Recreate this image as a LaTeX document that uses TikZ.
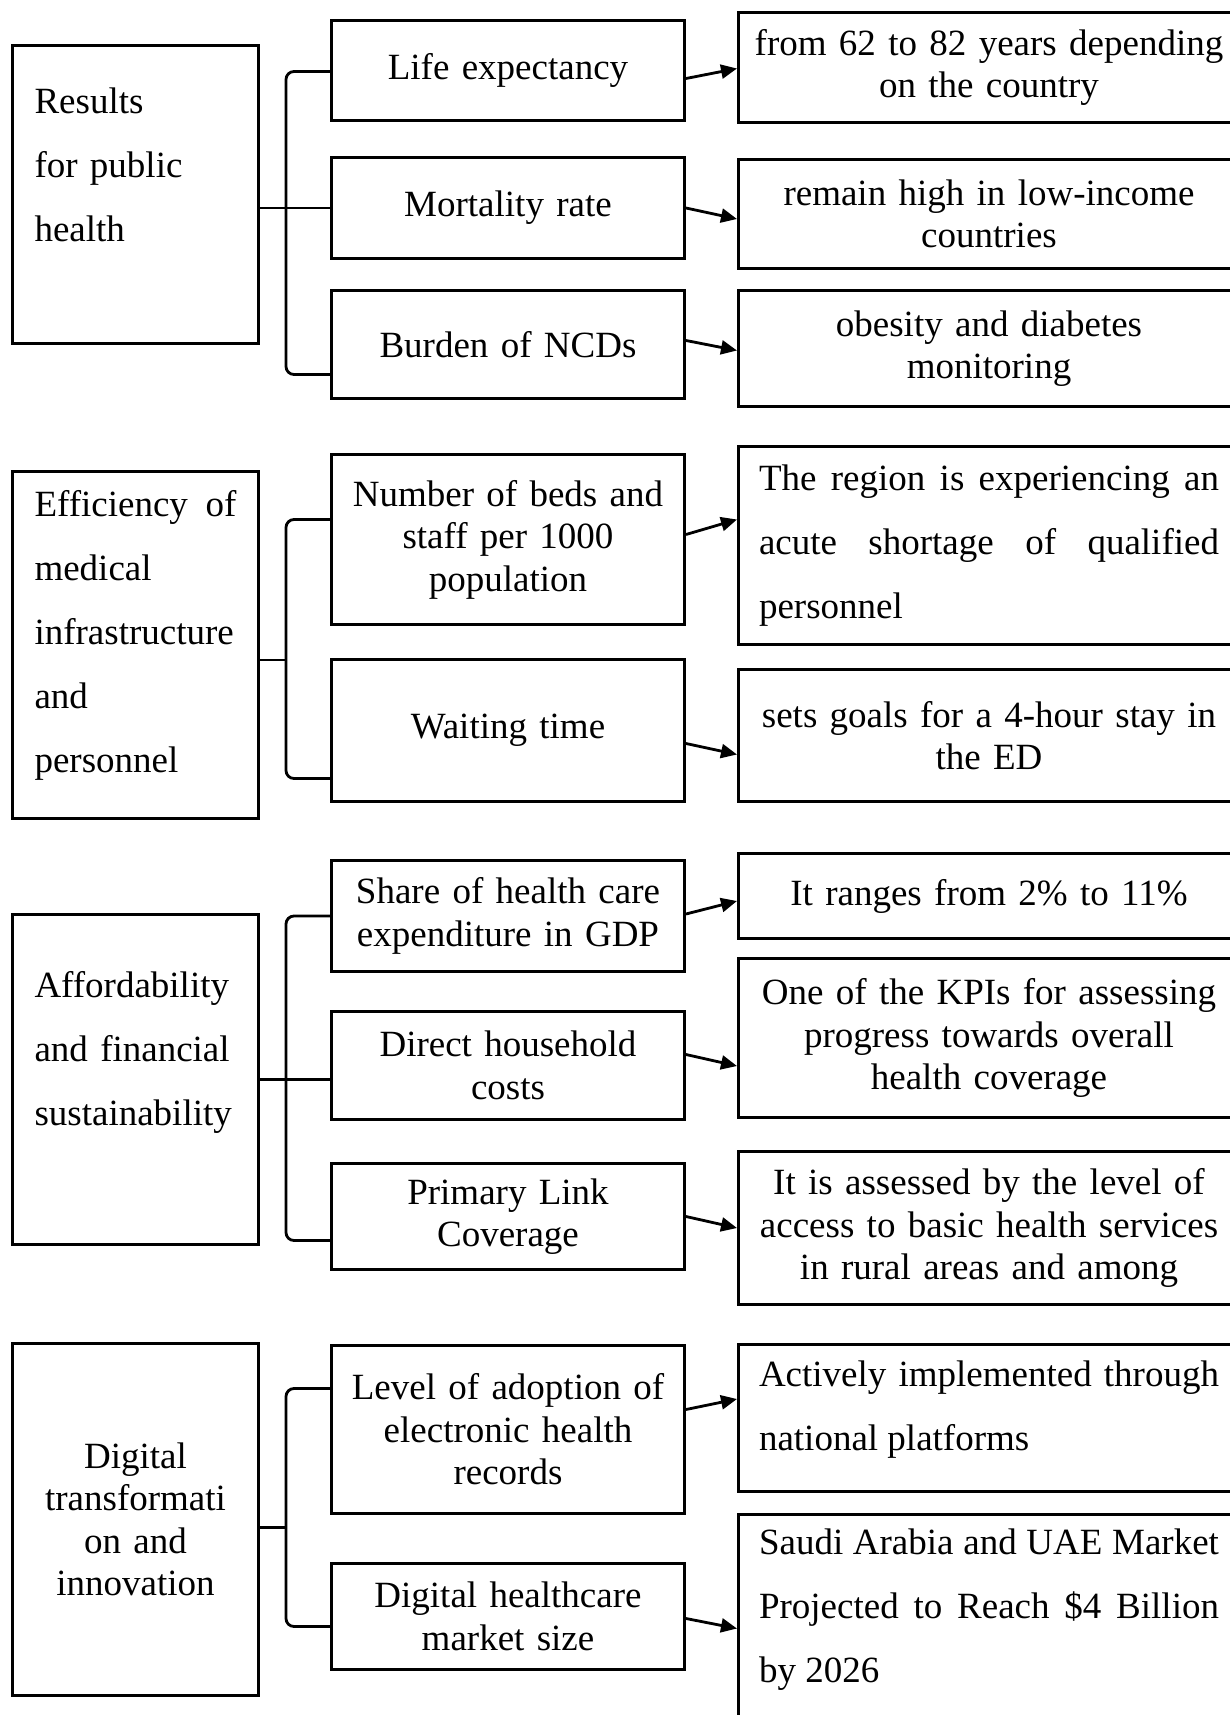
\documentclass[tikz,border=0pt]{standalone}
\usepackage{fontspec}
\setmainfont{Liberation Serif}
\usetikzlibrary{arrows.meta}
\newcommand{\bodyfont}{\fontsize{37pt}{42.5pt}\selectfont}
\newcommand{\widefont}{\fontsize{37pt}{64pt}\selectfont}

\begin{document}
\begin{tikzpicture}[x=1pt,y=1pt,
    box/.style={draw,line width=3pt,anchor=north west,inner sep=0pt,font=\bodyfont},
    catbox/.style={box,minimum width=246pt},
    cattext/.style={font=\widefont,text width=202pt,inner sep=0pt,align=left},
    midbox/.style={box,minimum width=353pt,text width=340pt,align=center},
    resbox/.style={box,minimum width=501pt,text width=490pt,align=center},
    restext/.style={font=\widefont,text width=460pt,inner sep=0pt,align=justify},
    link/.style={line width=2.8pt},
    brace/.style={link,rounded corners=8pt},
    arr/.style={link,-{Triangle[length=16pt,width=14pt]}}]

  \useasboundingbox (0,0) rectangle (1230,-1715);
  \clip (0,0) rectangle (1230,-1715);

  % public health
  \node[catbox,minimum height=298pt] (cat1) at (11,-44) {};
  \node[cattext] (cat1-t) at ([yshift=30pt]cat1.center) {Results\\for public\\health};
  \node[midbox,minimum height=100pt] (m11) at (330,-19) {Life expectancy};
  \node[midbox,minimum height=101pt] (m12) at (330,-156) {Mortality rate};
  \node[midbox,minimum height=108pt] (m13) at (330,-289) {Burden of NCDs};
  \node[resbox,minimum height=110pt] (r11) at (737,-11) {from 62 to 82 years depending\\on the country};
  \node[resbox,minimum height=109pt] (r12) at (737,-158) {remain high in low-income\\countries};
  \node[resbox,minimum height=116pt] (r13) at (737,-289) {obesity and diabetes\\monitoring};

  \draw[brace] ([yshift=-1pt]m11.west) -- ++(-44,0) |- ([yshift=-30pt]m13.west);
  \draw[link] (m12.west -| cat1.east) -- (m12.west);
  \draw[arr] ([yshift=-8pt]m11.east) -- ([yshift=-1pt]r11.west);
  \draw[arr] (m12.east) -- ([yshift=-5pt]r12.west);
  \draw[arr] ([yshift=4pt]m13.east) -- ([yshift=-2pt]r13.west);

  % infrastructure and personnel
  \node[catbox,minimum height=347pt] (cat2) at (11,-470) {};
  \node[cattext,align=justify] (cat2-t) at ([yshift=10pt]cat2.center)
       {Efficiency of\linebreak medical\\infrastructure\\and\\personnel};
  \node[midbox,minimum height=170pt] (m21) at (330,-453) {Number of beds and\\staff per 1000\\population};
  \node[midbox,minimum height=142pt] (m22) at (330,-658) {Waiting time};
  \node[resbox,minimum height=198pt] (r21) at (737,-445) {};
  \node[restext] (r21-t) at (r21.center)
       {The region is experiencing an\linebreak acute shortage of qualified\linebreak personnel};
  \node[resbox,minimum height=132pt] (r22) at (737,-668) {sets goals for a 4-hour stay in\\the ED};

  \draw[brace] ([yshift=20pt]m21.west) -- ++(-44,0) coordinate (br2) |- ([yshift=-48pt]m22.west);
  \draw[link] ([yshift=-15pt]cat2.east) coordinate (tr2) -- (tr2 -| br2);
  \draw[arr] ([yshift=5pt]m21.east) -- ([yshift=26pt]r21.west);
  \draw[arr] ([yshift=-13pt]m22.east) -- ([yshift=-19pt]r22.west);

  % affordability
  \node[catbox,minimum height=330pt] (cat3) at (11,-913) {};
  \node[cattext] (cat3-t) at ([yshift=27pt]cat3.center) {Affordability\\and financial\\sustainability};
  \node[midbox,minimum height=111pt] (m31) at (330,-859) {Share of health care\\expenditure in GDP};
  \node[midbox,minimum height=108pt] (m32) at (330,-1010) {Direct household\\costs};
  \node[midbox,minimum height=106pt] (m33) at (330,-1162) {Primary Link\\Coverage};
  \node[resbox,minimum height=85pt] (r31) at (737,-852) {It ranges from 2\% to 11\%};
  \node[resbox,minimum height=159pt] (r32) at (737,-957) {One of the KPIs for assessing\\progress towards overall\\health coverage};
  \node[resbox,minimum height=153pt] (r33) at (737,-1150) {It is assessed by the level of\\access to basic health services\\in rural areas and among};

  \draw[brace] (m31.west) -- ++(-44,0) |- ([yshift=-24pt]m33.west);
  \draw[link] (cat3.east) -- (cat3.east -| m32.west);
  \draw[arr] ([yshift=2pt]m31.east) -- ([yshift=-5pt]r31.west);
  \draw[arr] ([yshift=11pt]m32.east) -- ([yshift=-28pt]r32.west);
  \draw[arr] (m33.east) -- (r33.west);

  % digital
  \node[catbox,minimum height=352pt,text width=202pt,align=center] (cat4) at (11,-1342)
       {Digital\\transformati\\on and\\innovation};
  \node[midbox,minimum height=168pt] (m41) at (330,-1344) {Level of adoption of\\electronic health\\records};
  \node[midbox,minimum height=106pt] (m42) at (330,-1562) {Digital healthcare\\market size};
  \node[resbox,minimum height=147pt] (r41) at (737,-1343) {};
  \node[restext] (r41-t) at ([yshift=8pt]r41.center)
       {Actively implemented through\linebreak national platforms};
  \node[resbox,minimum height=260pt] (r42) at (737,-1513) {};
  \node[restext] (r42-t) at ([yshift=-97pt]r42.north)
       {Saudi Arabia and UAE Market\linebreak Projected to Reach \$4 Billion\linebreak by 2026};

  \draw[brace] ([yshift=41pt]m41.west) -- ++(-44,0) coordinate (br4) |- ([yshift=-10pt]m42.west);
  \draw[link] ([yshift=-8pt]cat4.east) coordinate (tr4) -- (tr4 -| br4);
  \draw[arr] ([yshift=20pt]m41.east) -- ([yshift=19pt]r41.west);
  \draw[arr] ([yshift=-2pt]m42.east) -- ([yshift=16pt]r42.west);
\end{tikzpicture}
\end{document}
